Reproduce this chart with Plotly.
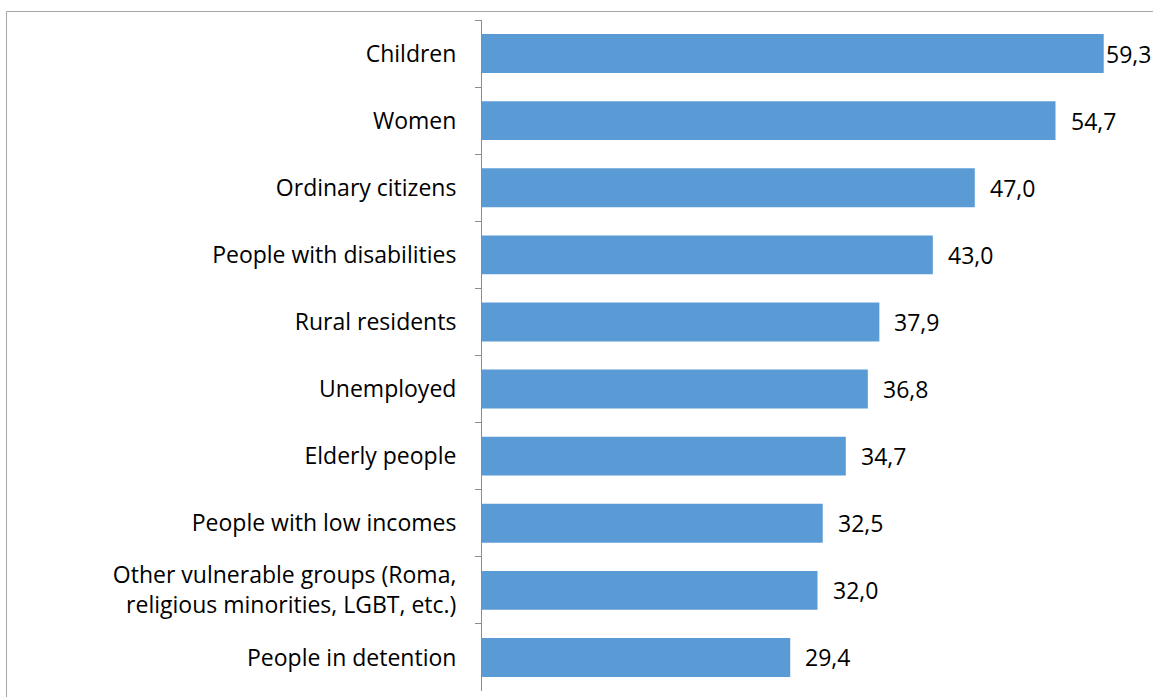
import plotly.graph_objects as go

# Groups and shares (%), top to bottom
groups = [
    "Children",
    "Women",
    "Ordinary citizens",
    "People with disabilities",
    "Rural residents",
    "Unemployed",
    "Elderly people",
    "People with low incomes",
    "Other vulnerable groups (Roma,<br>religious minorities, LGBT, etc.)",
    "People in detention",
]
shares = [59.3, 54.7, 47.0, 43.0, 37.9, 36.8, 34.7, 32.5, 32.0, 29.4]

FONT = "Open Sans, Carlito, Calibri, sans-serif"
FONT_SIZE = 23
BAR_COLOR = "#5b9bd5"


def fmt(v):
    return f"{v:.1f}".replace(".", ",")


fig = go.Figure(
    go.Bar(
        x=shares,
        y=groups,
        orientation="h",
        marker=dict(color=BAR_COLOR, line=dict(width=0)),
        hoverinfo="skip",
    )
)

# value labels to the right of each bar (the longest one sits tight to its bar)
annotations = []
for i, (g, v) in enumerate(zip(groups, shares)):
    annotations.append(
        dict(
            x=v,
            y=g,
            xref="x",
            yref="y",
            text=fmt(v),
            showarrow=False,
            xanchor="left",
            yanchor="middle",
            xshift=0 if i == 0 else 13,
            font=dict(family=FONT, size=FONT_SIZE, color="#000000"),
        )
    )

fig.update_layout(
    width=1153,
    height=697,
    margin=dict(l=482, r=0, t=20, b=6, pad=0),
    paper_bgcolor="white",
    plot_bgcolor="white",
    showlegend=False,
    bargap=0.42,
    annotations=annotations,
    font=dict(family=FONT, size=FONT_SIZE, color="#000000"),
    shapes=[
        # outer chart frame
        dict(
            type="rect",
            xref="paper",
            yref="paper",
            x0=(6.5 - 482) / 671,
            x1=1.2,
            y0=-0.2,
            y1=1 + (20 - 11.5) / 671,
            line=dict(color="#a6a6a6", width=1),
            fillcolor="rgba(0,0,0,0)",
            layer="below",
        )
    ],
)

fig.update_xaxes(
    range=[0, 64],
    visible=False,
    showgrid=False,
    zeroline=False,
)

fig.update_yaxes(
    autorange="reversed",
    showline=True,
    linecolor="#8c8c8c",
    linewidth=1,
    ticks="outside",
    tickson="boundaries",
    ticklen=6,
    tickcolor="#8c8c8c",
    tickwidth=1,
    showgrid=False,
    ticklabelstandoff=20,
    tickfont=dict(family=FONT, size=FONT_SIZE, color="#000000"),
)

fig.write_html("out.html")
